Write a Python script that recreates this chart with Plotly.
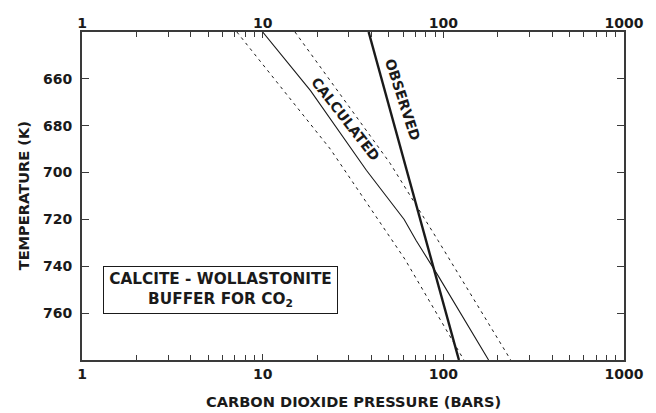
import plotly.graph_objects as go

# --- data ---
temp_obs = [640, 710, 780]
p_obs = [38.6, 68.6, 122]

temp_calc = [640, 665, 699, 720, 729, 744, 780]
p_calc = [10.0, 18.4, 37.5, 60.7, 70.7, 93.5, 178]

temp_low = [640, 690, 737, 780]
p_low = [7.2, 23.7, 61.3, 130]

temp_high = [640, 696, 729, 780]
p_high = [15.1, 50.7, 93.5, 236]

x_ticks = [1, 10, 100, 1000]
x_tick_text = ["1", "10", "100", "1000"]
x_minor = [m * d for d in (1, 10, 100) for m in range(2, 10)]
y_ticks = [660, 680, 700, 720, 740, 760]

FONT = "DejaVu Sans, Liberation Sans, Arial, sans-serif"
INK = "#1a1a1a"
AX = "#3a3a3a"

fig = go.Figure()
fig.add_trace(go.Scatter(x=p_low, y=temp_low, mode="lines",
                         line=dict(color=INK, width=1, dash="3px,4px"), hoverinfo="skip"))
fig.add_trace(go.Scatter(x=p_high, y=temp_high, mode="lines",
                         line=dict(color=INK, width=1, dash="3px,4px"), hoverinfo="skip"))
fig.add_trace(go.Scatter(x=p_calc, y=temp_calc, mode="lines",
                         line=dict(color=INK, width=1.1), hoverinfo="skip"))
fig.add_trace(go.Scatter(x=p_obs, y=temp_obs, mode="lines", xaxis="x2", yaxis="y2",
                         line=dict(color=INK, width=2.4), hoverinfo="skip"))

tickfont = dict(family=FONT, size=14, color=INK, weight="bold")

common_x = dict(type="log", range=[0, 3], tickvals=x_ticks, ticktext=x_tick_text,
                ticks="inside", ticklen=6, tickwidth=1.2, tickcolor=AX,
                minor=dict(tickvals=x_minor, ticks="inside", ticklen=5, tickwidth=1, tickcolor=AX),
                showgrid=False, zeroline=False, tickfont=tickfont)

fig.update_layout(
    width=656, height=413,
    margin=dict(l=82, r=29, t=32, b=53),
    paper_bgcolor="white", plot_bgcolor="white",
    showlegend=False,
    xaxis=dict(**common_x, showline=True, linecolor=AX, linewidth=1.5, mirror=True),
    xaxis2=dict(**common_x, overlaying="x", side="top", anchor="y", showline=False),
    yaxis=dict(range=[780, 640], tickvals=y_ticks, ticks="inside", ticklen=7,
               tickwidth=1.2, tickcolor=AX, showline=True, linecolor=AX, linewidth=1.5,
               mirror="allticks", showgrid=False, zeroline=False, showticklabels=False),
    # label-only axis: invisible outside ticks set the gap between numbers and frame
    yaxis2=dict(range=[780, 640], tickvals=y_ticks, overlaying="y", side="left",
                anchor="free", position=0, ticks="outside", ticklen=7,
                tickcolor="rgba(0,0,0,0)", showline=False,
                showgrid=False, zeroline=False, tickfont=tickfont),
)

bold = dict(family=FONT, size=14, color=INK, weight="bold")
fig.add_annotation(text="OBSERVED", x=1.776, y=669.0, xref="x", yref="y",
                   showarrow=False, textangle=72, font=bold)
fig.add_annotation(text="CALCULATED", x=1.459, y=677.1, xref="x", yref="y",
                   showarrow=False, textangle=52, font=bold)
fig.add_annotation(text="CALCITE - WOLLASTONITE<br>BUFFER FOR CO<sub>2</sub>",
                   x=(221.5 - 82) / 545, y=(360 - 290) / 328, xref="paper", yref="paper",
                   xanchor="center", yanchor="middle",
                   showarrow=False, font=dict(bold, size=15.3), bordercolor=INK, borderwidth=1,
                   borderpad=0, width=233, height=46, bgcolor="white", align="center")
fig.add_annotation(text="CARBON DIOXIDE PRESSURE (BARS)", x=0.5, y=(360 - 402) / 328,
                   xref="paper", yref="paper", showarrow=False, font=dict(bold, size=14.6),
                   xanchor="center", yanchor="middle")
fig.add_annotation(text="TEMPERATURE (K)", x=(23 - 82) / 545, y=0.5,
                   xref="paper", yref="paper", showarrow=False, font=dict(bold, size=14.6),
                   textangle=-90, xanchor="center", yanchor="middle")

fig.write_html("out.html", config={"displayModeBar": False},
               post_script="document.body.style.margin='0';")
